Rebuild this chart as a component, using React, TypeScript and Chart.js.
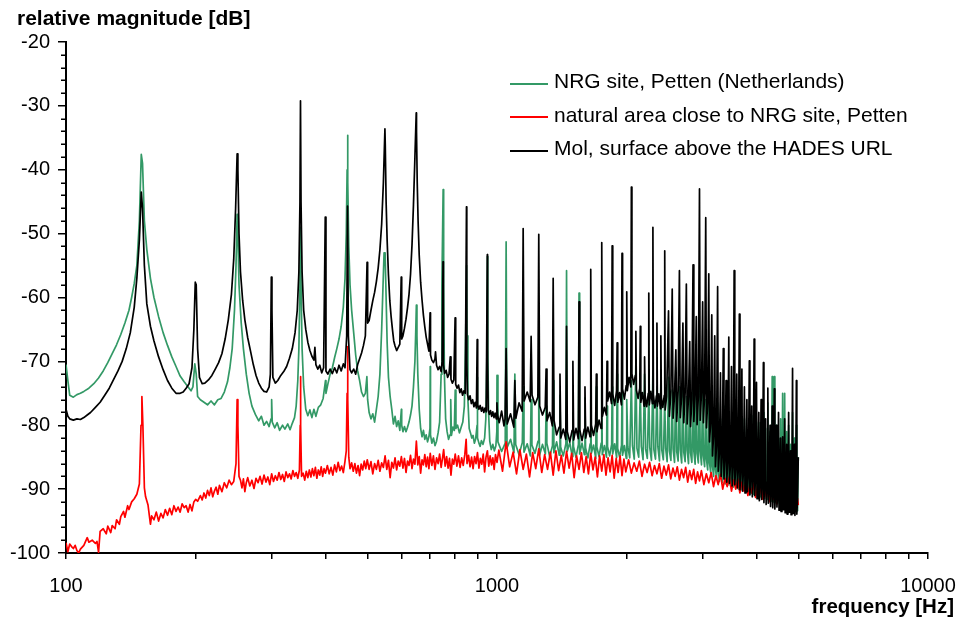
import React, { useEffect, useRef } from "react";
import { Chart, registerables } from "chart.js";

Chart.register(...registerables);

// ---------- data (frequency [Hz], relative magnitude [dB]) ----------
const seriesNames = [
  "NRG site, Petten (Netherlands)",
  "natural area close to NRG site, Petten",
  "Mol, surface above the HADES URL",
];
const seriesColors = ["#339966", "#ff0000", "#000000"];

const nrgSite: [number, number][] = [
  [100,-70.5],[101,-73],[102,-75.3],[104,-75.6],[106,-75.2],[108,-75],[110,-74.7],[113,-74.2],[116,-73.5],[119,-72.6],[122,-71.5],[125,-70.2],[128,-68.8],[131,-67.4],[134,-65.8],[137,-64],[140,-62],[142,-60],[144,-57.8],[146,-55],[148,-48],[149.5,-37.6],[150.5,-39],[152,-48],[154,-52.5],[157,-57],[160,-60],[164,-63],[168,-65.5],[172,-67.5],[176,-69.3],[180,-70.8],[184,-72.3],[188,-73.2],[192,-74],[195,-74.6],[197,-74],[199,-70.4],[200.5,-72],[202,-75.5],[205,-76],[209,-76.4],[213,-76.8],[217,-76.2],[221,-76.8],[225,-76],[229,-75.8],[233,-74.8],[237,-73.2],[240,-71],[243,-68],[246,-62],[248,-55],[249.5,-47],[250.5,-50],[252,-58],[255,-64],[258,-68],[262,-72],[266,-75],[270,-77],[275,-78.3],[280,-79.3],[284,-78.6],[288,-80],[292,-79.4],[296,-80.2],[299,-79],[300,-76],[301,-79.5],[305,-80.4],[309,-79.6],[313,-80.8],[318,-80],[322,-80.6],[327,-79.8],[331,-80.7],[335,-79.7],[339,-78.8],[342,-77],[345,-73],[347,-68],[349,-58],[350,-49],[351,-58],[353,-68],[356,-74],[360,-77.5],[364,-78.5],[368,-77.6],[372,-78.8],[376,-77.5],[380,-78.6],[385,-77.2],[390,-76.8],[395,-75.8],[400,-73],[401,-75],[405,-73.6],[410,-72],[415,-71],[420,-69.4],[425,-68],[430,-66.5],[435,-64.5],[440,-61.5],[444,-57],[447,-50],[449,-40],[450,-34.6],[451,-42],[453,-52],[456,-58],[460,-62],[465,-65.5],[470,-69],[475,-71.5],[480,-73],[485,-74.8],[490,-75.5],[495,-75],[499,-72.4],[501,-76],[505,-78],[510,-79],[515,-78.2],[520,-79.5],[525,-77.5],[530,-75.5],[535,-72],[540,-65],[544,-58],[547,-53],[550,-53],[553,-60],[556,-67],[560,-72.5],[565,-75.5],[570,-77.5],[575,-79.8],[580,-78.6],[585,-80.2],[590,-79.3],[595,-80.8],[600,-77.5],[601,-80],[605,-81],[610,-80.2],[615,-81],[620,-80.3],[625,-79.5],[630,-78.4],[635,-77],[640,-74],[645,-70],[648,-65],[650,-61.2],[652,-66],[655,-72],[660,-77.5],[665,-80.5],[670,-81.8],[675,-80.8],[680,-82.2],[685,-81.5],[690,-82.6],[695,-81.8],[699,-80.5],[700,-70.8],[701,-81.5],[706,-82.8],[712,-82],[718,-83.2],[724,-82.5],[730,-81.2],[736,-79.5],[742,-72],[745,-58],[750,-43.1],[752,-58],[755,-72],[760,-79],[766,-81],[772,-82.2],[778,-81.5],[781,-76],[784,-81.6],[790,-80.3],[796,-80.8],[800,-74.5],[803,-80.5],[810,-80],[818,-81.2],[825,-80.4],[833,-79.5],[840,-77],[845,-68],[849,-58],[850,-55],[852,-66],[856,-76],[862,-80.5],[868,-81.2],[874,-82],[880,-81.6],[886,-82.8],[892,-82.2],[899,-80],[900,-72.5],[902,-82],[908,-82.8],[914,-83.3],[920,-82.4],[928,-83],[936,-82],[942,-79],[947,-70],[950,-53.6],[952,-68],[956,-78],[962,-82.5],[970,-83.8],[978,-83],[986,-84],[994,-83.2],[999,-81],[1000,-72.2],
  [1005,-82.6],[1025,-84.1],[1045,-82.8],[1050,-51.3],[1055,-83.5],[1075,-82.2],[1095,-84.3],[1100,-72],[1105,-83],[1125,-84.6],[1145,-82.7],[1150,-74],[1155,-84.2],[1175,-82.9],[1195,-84.8],[1200,-76],[1205,-83.1],[1225,-84.4],[1245,-82.5],[1250,-74],[1255,-84.7],[1275,-83],[1295,-84.5],[1300,-77],[1305,-82.8],[1325,-84.9],[1345,-83.2],[1350,-73],[1355,-84.3],[1375,-82.6],[1395,-84.7],[1400,-75.3],[1405,-83.4],[1425,-84.8],[1445,-82.9],[1450,-55.8],[1455,-84.1],[1475,-82.7],[1495,-84.9],[1500,-78],[1505,-83.3],[1525,-85],[1545,-83],[1550,-59.3],[1555,-84.5],[1575,-82.8],[1595,-84.6],[1600,-75.7],[1605,-83.5],[1625,-85.1],[1645,-82.9],[1650,-76],[1655,-84.4],[1675,-83.1],[1695,-85.2],[1700,-74],[1705,-83.4],[1725,-84.9],[1745,-82.8],[1750,-73],[1755,-84.6],[1775,-83.2],[1795,-85],[1800,-77],[1805,-83.3],[1825,-84.8],[1845,-83],[1850,-74],[1855,-84.5],[1875,-82.9],[1895,-85.1],[1900,-72],[1905,-83.6],[1925,-85],[1945,-83.1],[1950,-75],[1955,-84.7],[1975,-83.2],[1995,-85.2],
  [2000,-76],[2012,-83.4],[2032,-85.1],[2050,-73],[2062,-83.2],[2082,-85.3],[2100,-70],[2112,-83.6],[2132,-85],[2150,-74.5],[2162,-83.3],[2182,-85.4],[2200,-72],[2212,-83.7],[2232,-85.2],[2250,-75],[2262,-83.5],[2282,-85.5],[2300,-71.5],[2312,-83.8],[2332,-85.3],[2350,-74],[2362,-83.4],[2382,-85.6],[2400,-73],[2412,-83.9],[2432,-85.4],[2450,-76],[2462,-83.6],[2482,-85.7],[2500,-72.5],[2512,-84],[2532,-85.5],[2550,-74.5],[2562,-83.7],[2582,-85.8],[2600,-71],[2612,-84.1],[2632,-85.6],[2650,-74],[2662,-83.8],[2682,-85.9],[2700,-72.5],[2712,-84.2],[2732,-85.7],[2750,-75.5],[2762,-83.9],[2782,-86],[2800,-73],[2812,-84.3],[2832,-85.8],[2850,-74],[2862,-84],[2882,-86.1],[2900,-72],[2912,-84.4],[2932,-85.9],[2950,-73.7],[2962,-84.1],[2982,-86.2],
  [3000,-74],[3012,-84.8],[3032,-86.5],[3050,-76],[3062,-85.3],[3082,-87],[3100,-75],[3112,-85.9],[3132,-87.4],[3150,-77],[3162,-86.4],[3182,-88],[3200,-78],[3212,-86.8],[3232,-88.4],[3250,-76.5],[3262,-87.1],[3282,-88.8],[3300,-79],[3312,-87.3],[3332,-89],[3350,-77],[3362,-87.5],[3382,-89.2],[3400,-80],[3412,-87.6],[3432,-89.4],[3450,-78],[3462,-87.8],[3482,-89.5],[3500,-81],[3512,-88],[3532,-89.7],[3550,-77.5],[3562,-88.1],[3582,-89.8],[3600,-80],[3612,-88.3],[3632,-90],[3650,-78],[3662,-88.4],[3682,-90.1],[3700,-82],[3712,-88.6],[3732,-90.2],[3750,-79],[3762,-88.7],[3782,-90.4],[3800,-82.5],[3812,-88.9],[3832,-90.5],[3850,-80],[3862,-89],[3882,-90.6],[3900,-78.5],[3912,-89.2],[3932,-90.8],[3950,-81],[3962,-89.3],[3982,-90.9],
  [4000,-79.5],[4012,-89.5],[4032,-91],[4050,-79.6],[4062,-89.6],[4082,-91.2],[4100,-82],[4112,-89.8],[4132,-91.3],[4150,-78],[4162,-89.9],[4182,-91.5],[4200,-80.5],[4212,-90.1],[4232,-91.6],[4250,-76.5],[4262,-90.2],[4282,-91.7],[4300,-81],[4312,-90.4],[4332,-91.9],[4350,-72.4],[4362,-90.5],[4382,-92],[4400,-72.4],[4412,-90.7],[4432,-92.1],[4450,-80],[4462,-90.8],[4482,-92.2],[4500,-82],[4512,-91],[4532,-92.4],[4550,-79],[4562,-91.1],[4582,-92.5],[4600,-75],[4612,-91.3],[4632,-92.6],[4650,-75],[4662,-91.4],[4682,-92.8],[4700,-81],[4712,-91.6],[4732,-92.9],[4750,-80],[4762,-91.7],[4782,-93],[4800,-83],[4812,-91.9],[4832,-93.1],[4850,-78],[4862,-92],[4882,-93.2],[4900,-82],[4912,-92.2],[4932,-93.3],[4950,-80],[4962,-92.3],[4982,-93.4],[5000,-85],
];

const naturalArea: [number, number][] = [
  [100,-98.4],[101,-99.8],[102,-98.6],[103,-99],[104,-99.3],[105,-98.8],[106,-99.6],[107,-100],[108,-99.4],[110,-98.8],[112,-97.6],[113,-98.3],[115,-98],[117,-98.5],[118,-98.2],[119,-99.9],[120,-96.6],[122,-96.2],[124,-97],[125,-95.8],[127,-96.8],[128,-95.7],[130,-96.2],[131,-94.8],[133,-95.5],[134,-94.3],[136,-93.5],[137,-94.4],[139,-92.6],[140,-93.2],[142,-92],[144,-91.5],[146,-90.8],[148,-89.2],[149.3,-80],[150,-75.5],[150.8,-80],[152,-89.8],[153,-91.2],[155,-92.5],[157,-95.5],[158,-94.2],[160,-94.8],[162,-93.6],[164,-95],[166,-93.8],[168,-94.5],[170,-93.2],[172,-94.1],[174,-93],[176,-94],[178,-92.6],[180,-93.5],[182,-92.8],[184,-93.6],[186,-92.3],[188,-92.9],[190,-92.6],[192,-93.6],[194,-92.4],[196,-93.4],[198,-92],[200,-91.6],[202,-91.9],[205,-91],[207,-91.7],[209,-90.6],[211,-91.4],[213,-90.2],[215,-91],[217,-89.8],[219,-91.2],[221,-90.3],[223,-89.7],[225,-90.8],[227,-89.4],[230,-90.4],[233,-89],[236,-89.8],[239,-88.6],[242,-89.3],[245,-88.8],[248,-86],[249.5,-76],[250.5,-80],[252,-88],[254,-88.6],[256,-89.8],[258,-88.4],[260,-90.4],[262,-89],[264,-88.2],[267,-89.5],[270,-88.6],[273,-89.9],[276,-88.3],[279,-89],[282,-88],[285,-89.2],[288,-87.8],[291,-88.9],[294,-88.1],[297,-89.3],[300,-87.6],[303,-88.8],[306,-87.9],[309,-88.6],[312,-87.4],[315,-88.5],[318,-87.7],[321,-88.8],[324,-87.3],[327,-88.2],[330,-87.6],[333,-88.4],[336,-87.1],[339,-88],[342,-87.4],[345,-88.3],[348,-87],[349.5,-80],[350,-72.4],[350.5,-80],[352,-88],[355,-87.5],[358,-88.6],[361,-87.2],[364,-88.2],[367,-87],[370,-88.1],[373,-86.8],[376,-87.9],[379,-86.6],[382,-88.3],[385,-87],[388,-87.8],[391,-86.5],[394,-88],[397,-86.8],[400,-87.5],[404,-86.3],[408,-87.6],[412,-86.6],[416,-87.8],[420,-86.2],[424,-87.3],[428,-85.8],[432,-87.1],[436,-86.4],[440,-87.4],[444,-85.6],[447,-84],[449,-75],[450,-67.7],[451,-76],[453,-85],[456,-86.8],[460,-85.9],[464,-87.2],[468,-86],[472,-87.5],[476,-86.3],[480,-87.9],[484,-86.1],[488,-87],[492,-85.6],[496,-86.8],[500,-85.4],[505,-86.9],[510,-85.7],[515,-87.6],[520,-86],[525,-86.9],[530,-85.5],[535,-87.2],[540,-85.9],[545,-86.6],[550,-84.8],[555,-86.9],[560,-85.5],[565,-88.2],[570,-85.8],[575,-86.7],[580,-85.1],[585,-87],[590,-85.6],[595,-86.4],[600,-84.9],[605,-86.7],[610,-85.2],[615,-87.4],[620,-85.6],[625,-86.3],[630,-84.7],[635,-86.8],[640,-85.3],[645,-86.1],[650,-82.5],[655,-86.2],[660,-84.9],[665,-87.5],[670,-85.4],[675,-86.2],[680,-84.6],[685,-86.5],[690,-85],[695,-86.8],[700,-84.4],[706,-86.3],[712,-84.8],[718,-86.9],[724,-85.1],[730,-86],[736,-84.5],[742,-86.6],[748,-85],[752,-83.8],[758,-86.4],[764,-84.9],[770,-86.7],[776,-85.2],[782,-87.8],[788,-85.3],[794,-86.1],[800,-84.5],[807,-86.4],[814,-84.8],[821,-86.6],[828,-85.1],[835,-86.3],[842,-84.6],[848,-82.2],[852,-86],[859,-84.7],[866,-86.5],[873,-85],[880,-86.8],[887,-84.9],[894,-86],[901,-84.3],[908,-86.7],[915,-85.2],[922,-86.1],[929,-84.5],[936,-87.3],[943,-85],[950,-84],[957,-86.4],[964,-84.8],[971,-86.2],[978,-85.1],[985,-86.9],[992,-84.6],[1000,-85.8],
  [1010,-83.9],[1030,-87.2],[1050,-82.6],[1070,-86.5],[1090,-84.2],[1110,-87.6],[1130,-83.8],[1150,-86.9],[1170,-84.5],[1190,-88.1],[1210,-84.3],[1230,-86.8],[1250,-83.7],[1270,-87.4],[1290,-84.6],[1310,-86.9],[1330,-84.2],[1350,-87.8],[1370,-84],[1390,-87.1],[1410,-84.7],[1430,-87.5],[1450,-84.1],[1470,-86.7],[1490,-84.4],[1510,-88.2],[1530,-84.8],[1550,-86.9],[1570,-84.3],[1590,-87.4],[1610,-84.9],[1630,-87.6],[1650,-84.4],[1670,-87],[1690,-85],[1710,-88.1],[1730,-84.8],[1750,-87.2],[1770,-84.6],[1790,-87.8],[1810,-85.1],[1830,-87.3],[1850,-84.7],[1870,-88.3],[1890,-85.2],[1910,-87.4],[1930,-84.8],[1950,-87.9],[1970,-85.3],[1990,-87.3],
  [2020,-85.4],[2050,-87.5],[2080,-85.9],[2110,-87.2],[2140,-85.6],[2170,-88],[2200,-86.1],[2230,-87.4],[2260,-85.8],[2290,-87.9],[2320,-86.3],[2350,-87.6],[2380,-86],[2410,-88.3],[2440,-86.4],[2470,-87.8],[2500,-86.2],[2530,-88.4],[2560,-86.7],[2590,-88],[2620,-86.5],[2650,-88.6],[2680,-86.9],[2710,-88.2],[2740,-86.6],[2770,-88.9],[2800,-87.1],[2830,-88.5],[2860,-86.9],[2890,-89.1],[2920,-87.3],[2950,-88.7],[2980,-87.1],
  [3020,-89.3],[3060,-87.6],[3100,-89],[3140,-87.4],[3180,-89.6],[3220,-87.9],[3260,-89.3],[3300,-87.7],[3340,-90],[3380,-88.3],[3420,-89.6],[3460,-88.1],[3500,-90.3],[3540,-88.6],[3580,-90],[3620,-88.4],[3660,-90.6],[3700,-88.9],[3740,-90.3],[3780,-88.8],[3820,-91],[3860,-89.3],[3900,-90.6],[3940,-89.1],[3980,-91.3],
  [4020,-89.6],[4060,-91],[4100,-89.5],[4140,-91.6],[4180,-90],[4220,-91.3],[4260,-89.9],[4300,-92],[4340,-90.3],[4380,-91.6],[4420,-90.2],[4460,-92.3],[4500,-90.6],[4540,-92],[4580,-90.5],[4620,-92.6],[4660,-90.9],[4700,-92.3],[4740,-90.8],[4780,-93],[4820,-91.2],[4860,-92.6],[4900,-91.1],[4940,-93.2],[4980,-91.5],[5000,-92.5],
];

const molHades: [number, number][] = [
  [100,-77.5],[101,-78.6],[102,-79],[104,-79.2],[106,-79],[108,-79.1],[110,-78.8],[112,-78.4],[114,-78],[117,-77.2],[120,-76.4],[123,-75.3],[126,-74.2],[129,-72.8],[132,-71.5],[135,-70],[138,-68],[141,-65.5],[144,-61.5],[146,-57],[148,-51],[149.5,-43.5],[150.5,-46],[152,-55],[154,-61],[157,-64.5],[160,-66.8],[164,-69.3],[168,-71.3],[172,-73],[176,-74.2],[180,-75],[184,-75],[187,-74.8],[190,-74.2],[193,-73.5],[196,-71],[198,-65],[199.5,-57.6],[200.5,-58],[202,-68],[204,-72.5],[207,-73.5],[210,-73.4],[214,-72.9],[218,-72.2],[222,-71.2],[226,-70.2],[230,-68.8],[234,-66.5],[238,-63.5],[242,-59.5],[245,-54],[247.5,-46],[249.5,-37.5],[250.5,-40],[252,-50],[254,-56],[257,-60.5],[260,-63.5],[264,-66.3],[268,-68.4],[272,-70.5],[276,-72.2],[280,-73.4],[284,-74.2],[288,-74.7],[292,-74.8],[296,-74],[298,-72],[299.5,-56.8],[300.5,-62],[302,-72.5],[306,-73.4],[310,-73],[315,-72.2],[320,-71.6],[325,-70.8],[330,-69.5],[335,-68],[340,-65.5],[344,-62],[347,-56],[349,-45],[350,-29.2],[351,-45],[353,-56],[356,-62],[360,-65],[364,-67],[368,-68.3],[372,-69.2],[376,-69.8],[378,-67.8],[380,-70.5],[384,-71.2],[388,-70.6],[392,-71.8],[396,-71],[399.5,-47.4],[401,-71.5],[405,-72],[410,-71.2],[415,-71.9],[420,-71],[425,-71.8],[430,-70.6],[435,-71.5],[440,-70.4],[444,-71],[448,-66],[450,-45.7],[452,-66],[456,-71.3],[460,-71.8],[465,-71.2],[470,-72],[475,-70.5],[480,-69.6],[485,-68.7],[490,-67.5],[495,-66],[499.5,-54.5],[501,-64],[505,-63.6],[510,-62],[515,-60.5],[520,-59.2],[525,-57.5],[530,-55.4],[535,-52.5],[540,-48.5],[545,-42],[549.5,-33.6],[550.5,-36],[553,-45],[556,-51],[560,-56.5],[564,-60.5],[568,-63],[572,-65],[576,-66.8],[580,-67.6],[585,-68.3],[590,-67.8],[595,-67.3],[599.5,-56.8],[601,-66.5],[605,-66],[610,-64.8],[615,-63.4],[620,-61.6],[625,-59.5],[630,-56.4],[635,-51.8],[640,-45.5],[645,-38],[649.5,-31.1],[650.5,-34],[653,-42],[656,-48],[660,-53.4],[665,-57.6],[670,-60.4],[675,-62.8],[680,-64.6],[685,-66.2],[690,-67.3],[695,-68.4],[699.5,-62.4],[701,-69],[706,-69.8],[712,-70.2],[718,-69.6],[720,-68.5],[724,-70.6],[730,-71.3],[736,-70.8],[742,-71.6],[746,-70],[749.5,-54.4],[751,-70.5],[756,-71.9],[762,-71.4],[768,-72.5],[774,-72],[779,-69.3],[782,-72.8],[788,-73.4],[794,-72.9],[799.5,-63.2],[802,-73.6],[808,-74.2],[814,-73.7],[820,-74.9],[826,-74.3],[832,-75.3],[838,-74.6],[844,-75],[849.5,-45.8],[851,-70],[854,-75.2],[860,-76],[866,-75.4],[872,-76.6],[878,-76],[884,-77.1],[890,-76.4],[896,-77.3],[899.5,-66.6],[902,-76.8],[908,-77.5],[914,-76.9],[920,-77.8],[926,-77.2],[932,-78],[938,-77.3],[944,-77.9],[949.5,-53.3],[951,-70],[954,-77.6],[960,-78.3],[966,-77.7],[972,-78.6],[978,-77.9],[984,-78.8],[990,-78.1],[996,-79],[999.5,-76.5],
  [1003,-78.4],[1012,-79.6],[1025,-77.8],[1038,-80.1],[1044,-79],[1050,-68],[1056,-79.8],[1075,-78.2],[1094,-80.3],[1100,-73],[1106,-78.9],[1125,-76.5],[1144,-77.8],[1150,-49.2],[1156,-76.2],[1175,-74.8],[1194,-76.3],[1200,-66.1],[1206,-75.3],[1225,-76.8],[1244,-75.6],[1250,-50.1],[1256,-77],[1275,-78.4],[1294,-77.2],[1300,-71.2],[1306,-79.3],[1325,-78],[1344,-80.1],[1350,-57],[1356,-79.2],[1375,-81.5],[1394,-80.3],[1400,-72],[1406,-82],[1425,-80.6],[1444,-82.2],[1450,-64.5],[1456,-81],[1475,-82.6],[1494,-80.8],[1500,-70],[1506,-82.3],[1525,-80.5],[1544,-82.1],[1550,-60.7],[1556,-80.7],[1575,-82.4],[1594,-80.6],[1600,-74],[1606,-82],[1625,-80.3],[1644,-81.8],[1650,-55.6],[1656,-80],[1675,-81.6],[1694,-79.8],[1700,-72],[1706,-81],[1725,-79.2],[1744,-80.5],[1750,-51.4],[1756,-78.6],[1775,-77.2],[1794,-78.4],[1800,-70],[1806,-76.2],[1825,-74.8],[1844,-76.6],[1850,-51.9],[1856,-75.1],[1875,-76.9],[1894,-74.6],[1900,-67.1],[1906,-76.4],[1925,-74.9],[1944,-76.8],[1950,-53.1],[1956,-74.3],[1975,-75.9],[1994,-73.8],
  [2000,-59.1],[2006,-74.6],[2025,-72.5],[2044,-74],[2050,-42.7],[2056,-71.9],[2075,-73.6],[2094,-72.2],[2100,-65.3],[2106,-74.5],[2125,-75.8],[2144,-74.2],[2150,-64.5],[2156,-76.4],[2175,-74.9],[2194,-77],[2200,-69.3],[2206,-75.3],[2225,-77.1],[2244,-75],[2250,-59.3],[2256,-76.8],[2275,-74.7],[2294,-76.6],[2300,-49],[2306,-75.2],[2325,-77.3],[2344,-75.4],[2350,-64],[2356,-77],[2375,-75.1],[2394,-77.4],[2400,-66],[2406,-75.6],[2425,-77.2],[2444,-75.3],[2450,-52.7],[2456,-77.6],[2475,-75.5],
  [2500,-62.1],[2512,-78.6],[2532,-74.8],[2550,-58.7],[2562,-78.9],[2582,-75.2],[2600,-68.2],[2612,-79.4],[2632,-74.6],[2650,-55.8],[2662,-78.8],[2682,-75.4],[2700,-64],[2712,-79.6],[2732,-75],[2750,-57.9],[2762,-79.8],[2782,-75.6],[2800,-66.9],[2812,-80.2],[2832,-76],[2850,-54.9],[2862,-79.4],[2882,-75.3],[2900,-63],[2912,-79.9],[2932,-75.5],[2950,-43],[2962,-79.2],[2982,-74.8],
  [3000,-60.7],[3012,-79.6],[3032,-75.1],[3050,-47.5],[3062,-80.4],[3082,-76.3],[3100,-56.3],[3112,-82.6],[3132,-79.5],[3150,-62.7],[3162,-84.8],[3182,-81.4],[3200,-66],[3212,-86.5],[3232,-83],[3250,-58.3],[3262,-87.2],[3282,-84.1],[3300,-71.8],[3312,-88],[3332,-84.6],[3350,-68],[3362,-88.4],[3382,-85],[3400,-73],[3412,-88.9],[3432,-85.3],[3450,-66.2],[3462,-89.1],[3482,-85.8],[3500,-70.8],[3512,-89.5],[3532,-86],[3550,-55.8],[3562,-89.3],[3582,-86.2],[3600,-72],[3612,-89.8],[3632,-86.5],[3650,-62.6],[3662,-90.1],[3682,-86.4],[3700,-71.2],[3712,-90.3],[3732,-86.8],[3750,-74],[3762,-90.6],[3782,-87],[3800,-76],[3812,-90.4],[3832,-87.2],[3850,-69.9],[3862,-90.9],[3882,-87.5],[3900,-77],[3912,-91.2],[3932,-87.4],[3950,-66.5],[3962,-91],[3982,-87.8],
  [4000,-73.3],[4012,-91.5],[4032,-88],[4050,-78],[4062,-91.8],[4082,-88.3],[4100,-76],[4112,-91.6],[4132,-88.6],[4150,-70.2],[4162,-92.1],[4182,-88.5],[4200,-79],[4212,-92.4],[4232,-88.9],[4250,-74.2],[4262,-92.2],[4282,-89.2],[4300,-80],[4312,-92.7],[4332,-89.4],[4350,-77],[4362,-92.9],[4382,-89.3],[4400,-74.3],[4412,-93.1],[4432,-89.8],[4450,-80],[4462,-92.8],[4482,-90],[4500,-78],[4512,-93.3],[4532,-90.2],[4550,-82],[4562,-93.5],[4582,-90.1],[4600,-81.8],[4612,-93.2],[4632,-90.5],[4650,-79],[4662,-93.7],[4682,-90.6],[4700,-83],[4712,-93.9],[4732,-90.9],[4750,-78],[4762,-93.6],[4782,-91],[4800,-84],[4812,-94],[4832,-91.2],[4850,-71.1],[4862,-93.8],[4882,-91.3],[4900,-83],[4912,-94.1],[4932,-91.5],[4950,-73],[4962,-93.9],[4982,-91.4],[5000,-85],
];

// ---------- axes ----------
const xTickValues = [100, 200, 300, 400, 500, 600, 700, 800, 900, 1000, 2000, 3000, 4000, 5000, 6000, 7000, 8000, 9000, 10000];
const xTickLabels = [100, 1000, 10000];
const yMajorTicks = [-100, -90, -80, -70, -60, -50, -40, -30, -20];
const yMinorTicks = [-98, -96, -94, -92, -88, -86, -84, -82, -78, -76, -74, -72, -68, -66, -64, -62, -58, -56, -54, -52, -48, -46, -44, -42, -38, -36, -34, -32, -28, -26, -24, -22];

const FONT = "'Liberation Sans', Arial, Helvetica, sans-serif";

const minorTickPlugin = {
  id: "minorYTicks",
  afterDraw(chart: any) {
    const y = chart.scales.y;
    const ctx = chart.ctx;
    const left = chart.chartArea.left;
    ctx.save();
    ctx.strokeStyle = "#000";
    ctx.lineWidth = 1.5;
    ctx.beginPath();
    for (const v of yMinorTicks) {
      const py = Math.round(y.getPixelForValue(v)) + 0.25;
      ctx.moveTo(left - 5, py);
      ctx.lineTo(left, py);
    }
    ctx.stroke();
    ctx.restore();
  },
};

export default function App() {
  const ref = useRef<HTMLCanvasElement>(null);

  useEffect(() => {
    if (!ref.current) return;
    const toPts = (arr: [number, number][]) => arr.map(([x, y]) => ({ x, y }));
    const sets = [nrgSite, naturalArea, molHades];
    const chart = new Chart(ref.current, {
      type: "line",
      data: {
        datasets: sets.map((s, i) => ({
          label: seriesNames[i],
          data: toPts(s),
          borderColor: seriesColors[i],
          backgroundColor: seriesColors[i],
          borderWidth: 1.7,
          borderJoinStyle: "round" as const,
          pointRadius: 0,
          tension: 0,
          fill: false,
          order: 3 - i,
        })),
      },
      options: {
        animation: false,
        responsive: false,
        maintainAspectRatio: false,
        devicePixelRatio: 1,
        events: [],
        layout: { padding: { top: 42, right: 30, left: 0, bottom: 0 } },
        plugins: { legend: { display: false }, tooltip: { enabled: false }, title: { display: false } },
        scales: {
          x: {
            type: "logarithmic",
            min: 100,
            max: 10000,
            afterBuildTicks: (s: any) => {
              s.ticks = xTickValues.map((v) => ({ value: v }));
            },
            afterFit: (s: any) => {
              s.height = 66;
              s.paddingRight = 0;
              s.paddingLeft = 0;
            },
            ticks: {
              autoSkip: false,
              maxRotation: 0,
              minRotation: 0,
              color: "#000",
              padding: 15,
              font: { family: FONT, size: 20 },
              callback: (v: any) => (xTickLabels.includes(Number(v)) ? String(v) : ""),
            },
            grid: { display: true, drawOnChartArea: false, drawTicks: true, tickLength: 6, color: "#000", lineWidth: 1.5 },
            border: { display: true, color: "#000", width: 2 },
          },
          y: {
            type: "linear",
            min: -100,
            max: -20,
            afterBuildTicks: (s: any) => {
              s.ticks = yMajorTicks.map((v) => ({ value: v }));
            },
            afterFit: (s: any) => {
              s.width = 66;
            },
            ticks: {
              autoSkip: false,
              color: "#000",
              padding: 8,
              font: { family: FONT, size: 20 },
              callback: (v: any) => String(v),
            },
            grid: { display: true, drawOnChartArea: false, drawTicks: true, tickLength: 8, color: "#000", lineWidth: 1.5 },
            border: { display: true, color: "#000", width: 2 },
          },
        },
      },
      plugins: [minorTickPlugin],
    } as any);
    return () => chart.destroy();
  }, []);

  const legendTop = [70, 103.5, 137];
  return (
    <div style={{ position: "fixed", left: 0, top: 0, width: 958, height: 619, background: "#fff", overflow: "hidden", fontFamily: FONT }}>
      <canvas ref={ref} width={958} height={619} style={{ position: "absolute", left: 0, top: 0, width: 958, height: 619 }} />
      <div style={{ position: "absolute", left: 17, top: 7, fontSize: 21, lineHeight: "21px", fontWeight: "bold", whiteSpace: "nowrap", color: "#000" }}>
        relative magnitude [dB]
      </div>
      <div style={{ position: "absolute", right: 4, top: 595, fontSize: 20.5, lineHeight: "21px", fontWeight: "bold", whiteSpace: "nowrap", color: "#000" }}>
        frequency [Hz]
      </div>
      {seriesNames.map((name, i) => (
        <React.Fragment key={name}>
          <div style={{ position: "absolute", left: 510, top: legendTop[i] + 12.5, width: 38, height: 0, borderTop: `2px solid ${seriesColors[i]}` }} />
          <div style={{ position: "absolute", left: 554, top: legendTop[i], fontSize: 21, lineHeight: "21px", whiteSpace: "nowrap", color: "#000" }}>
            {name}
          </div>
        </React.Fragment>
      ))}
    </div>
  );
}
